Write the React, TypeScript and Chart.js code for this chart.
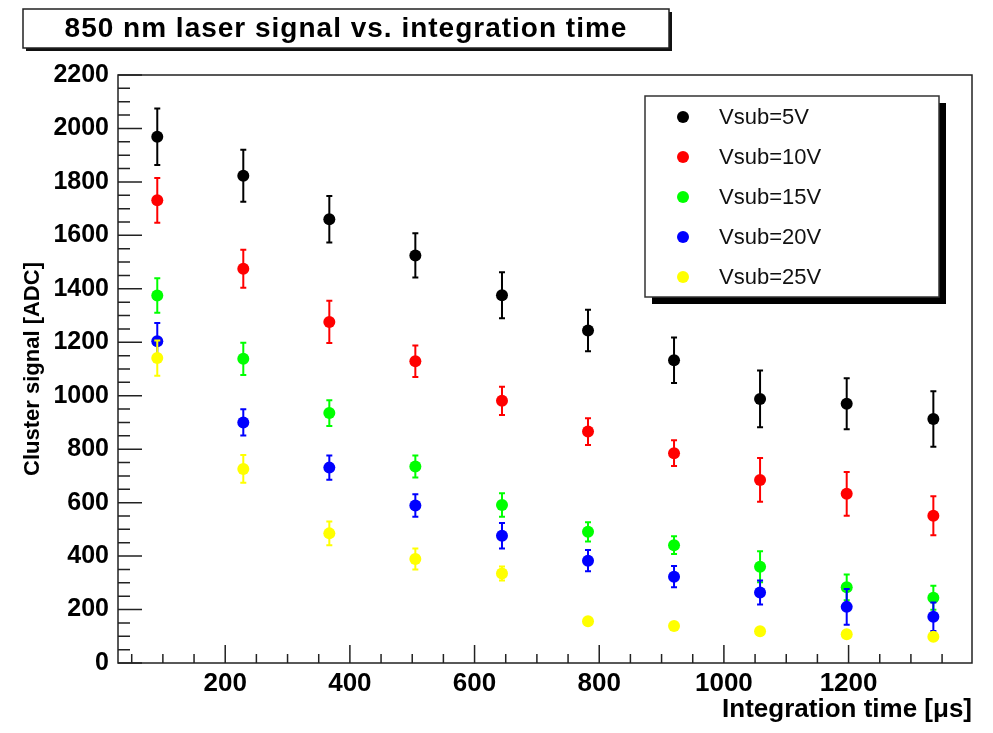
import { useEffect, useRef } from 'react';
import { Chart, registerables } from 'chart.js';

Chart.register(...registerables);

// Integration time of each measurement [µs]
const integrationTimes = [91, 229, 367, 505, 644, 782, 920, 1058, 1197, 1336];

// Mean cluster signal [ADC] and its uncertainty for each substrate voltage
const signal5V = [1969, 1823, 1660, 1525, 1376, 1244, 1133, 988, 970, 913];
const error5V = [106, 97, 87, 83, 86, 78, 85, 106, 95, 104];
const signal10V = [1731, 1475, 1276, 1129, 981, 866, 785, 685, 633, 551];
const error10V = [84, 71, 79, 59, 53, 50, 48, 82, 82, 73];
const signal15V = [1375, 1138, 935, 735, 591, 491, 441, 360, 283, 244];
const error15V = [65, 60, 48, 41, 44, 36, 33, 58, 48, 45];
const signal20V = [1204, 900, 731, 589, 476, 383, 323, 264, 210, 173];
const error20V = [68, 49, 45, 42, 48, 40, 40, 45, 67, 53];
const signal25V = [1141, 726, 485, 389, 335, 156, 138, 119, 108, 98];
const error25V = [66, 52, 44, 39, 26, 10, 10, 10, 10, 10];

const seriesLabels = ['Vsub=5V', 'Vsub=10V', 'Vsub=15V', 'Vsub=20V', 'Vsub=25V'];
const seriesColors = ['#000000', '#ff0000', '#00ff00', '#0000ff', '#ffff00'];
const seriesValues = [signal5V, signal10V, signal15V, signal20V, signal25V];
const seriesErrors = [error5V, error10V, error15V, error20V, error25V];

const xTickValues = [200, 400, 600, 800, 1000, 1200];
const xRange = [28, 1398];
const yRange = [0, 2200];

const titleText = '850 nm laser signal vs. integration time';
const xTitle = 'Integration time [μs]';
const yTitle = 'Cluster signal [ADC]';

const FONT = "'Liberation Sans', Arial, Helvetica, sans-serif";

// Vertical error bars with small caps, drawn just beneath each dataset's markers
const errorBarPlugin = {
  id: 'errorBars',
  beforeDatasetDraw(chart: any, args: any) {
    const ds = chart.data.datasets[args.index];
    const errs: number[] = ds.errors || [];
    const yScale = chart.scales.y;
    const ctx = chart.ctx;
    ctx.save();
    ctx.strokeStyle = ds.borderColor;
    ctx.lineWidth = 2;
    args.meta.data.forEach((el: any, i: number) => {
      const v = ds.data[i].y;
      const e = errs[i] || 0;
      const yTop = yScale.getPixelForValue(v + e);
      const yBot = yScale.getPixelForValue(v - e);
      const x = el.x;
      ctx.beginPath();
      ctx.moveTo(x, yTop);
      ctx.lineTo(x, yBot);
      ctx.moveTo(x - 3, yTop);
      ctx.lineTo(x + 3, yTop);
      ctx.moveTo(x - 3, yBot);
      ctx.lineTo(x + 3, yBot);
      ctx.stroke();
    });
    ctx.restore();
  },
};

// Frame around the plot area with inward-facing major and minor ticks
const framePlugin = {
  id: 'frameTicks',
  afterDatasetsDraw(chart: any) {
    const { ctx, chartArea: a, scales } = chart;
    ctx.save();
    ctx.strokeStyle = '#222';
    ctx.lineWidth = 1.5;
    ctx.strokeRect(a.left, a.top, a.right - a.left, a.bottom - a.top);
    ctx.beginPath();
    for (let v = 50; v < xRange[1]; v += 50) {
      if (v < xRange[0]) continue;
      const x = scales.x.getPixelForValue(v);
      const len = v % 200 === 0 ? 18 : 9;
      ctx.moveTo(x, a.bottom);
      ctx.lineTo(x, a.bottom - len);
    }
    for (let v = 0; v <= yRange[1]; v += 50) {
      const y = scales.y.getPixelForValue(v);
      const len = v % 200 === 0 ? 24 : 12;
      ctx.moveTo(a.left, y);
      ctx.lineTo(a.left + len, y);
    }
    ctx.stroke();
    ctx.restore();
  },
};

// Boxed title and boxed legend, each with a drop shadow
const boxesPlugin = {
  id: 'boxes',
  afterDraw(chart: any) {
    const ctx = chart.ctx;
    ctx.save();
    // title box
    const tb = { x: 23, y: 9, w: 646, h: 39 };
    ctx.fillStyle = '#111';
    ctx.fillRect(tb.x + 3, tb.y + 3, tb.w, tb.h);
    ctx.fillStyle = '#fff';
    ctx.fillRect(tb.x, tb.y, tb.w, tb.h);
    ctx.strokeStyle = '#222';
    ctx.lineWidth = 1.5;
    ctx.strokeRect(tb.x, tb.y, tb.w, tb.h);
    ctx.fillStyle = '#000';
    ctx.font = `bold 28px ${FONT}`;
    (ctx as any).letterSpacing = '1px';
    ctx.textAlign = 'center';
    ctx.textBaseline = 'middle';
    ctx.fillText(titleText, tb.x + tb.w / 2, tb.y + tb.h / 2 + 1);
    (ctx as any).letterSpacing = '0px';

    // legend box
    const lb = { x: 645, y: 96, w: 294, h: 201 };
    ctx.fillStyle = '#000';
    ctx.fillRect(lb.x + 7, lb.y + 7, lb.w, lb.h);
    ctx.fillStyle = '#fff';
    ctx.fillRect(lb.x, lb.y, lb.w, lb.h);
    ctx.strokeStyle = '#333';
    ctx.lineWidth = 1.5;
    ctx.strokeRect(lb.x, lb.y, lb.w, lb.h);
    ctx.font = `22px ${FONT}`;
    ctx.textAlign = 'left';
    ctx.textBaseline = 'middle';
    chart.data.datasets.forEach((ds: any, i: number) => {
      const cy = lb.y + 21 + i * 40;
      ctx.fillStyle = ds.backgroundColor;
      ctx.beginPath();
      ctx.arc(lb.x + 38, cy, 6, 0, Math.PI * 2);
      ctx.fill();
      ctx.fillStyle = '#111';
      ctx.fillText(ds.label, lb.x + 74, cy + 1);
    });
    ctx.restore();
  },
};

export default function App() {
  const canvasRef = useRef<HTMLCanvasElement | null>(null);

  useEffect(() => {
    const canvas = canvasRef.current;
    if (!canvas) return;
    const datasets = seriesLabels.map((label, s) => ({
      label,
      data: integrationTimes.map((t, i) => ({ x: t, y: seriesValues[s][i] })),
      errors: seriesErrors[s],
      backgroundColor: seriesColors[s],
      borderColor: seriesColors[s],
      pointRadius: 6,
      pointBorderWidth: 0,
      showLine: false,
      order: seriesLabels.length - s,
    }));

    const chart = new Chart(canvas, {
      type: 'scatter',
      data: { datasets } as any,
      plugins: [errorBarPlugin, framePlugin, boxesPlugin],
      options: {
        animation: false,
        responsive: false,
        maintainAspectRatio: false,
        layout: { padding: { top: 75, right: 21, left: 0, bottom: 0 } },
        plugins: {
          legend: { display: false },
          tooltip: { enabled: false },
          title: { display: false },
        },
        scales: {
          x: {
            type: 'linear',
            min: xRange[0],
            max: xRange[1],
            grid: { display: false, drawTicks: false },
            border: { display: false },
            afterBuildTicks: (scale: any) => {
              scale.ticks = xTickValues.map((v) => ({ value: v }));
            },
            afterFit: (scale: any) => {
              scale.height = 70;
            },
            ticks: {
              font: { family: FONT, size: 26, weight: 'bold' },
              color: '#000',
              padding: 5,
              maxRotation: 0,
              autoSkip: false,
              callback: (v: any) => String(v),
            },
            title: {
              display: true,
              text: xTitle,
              align: 'end',
              color: '#000',
              font: { family: FONT, size: 26, weight: 'bold' },
              padding: { top: 0, bottom: 8 },
            },
          },
          y: {
            type: 'linear',
            min: yRange[0],
            max: yRange[1],
            grid: { display: false, drawTicks: false },
            border: { display: false },
            afterFit: (scale: any) => {
              scale.width = 118;
            },
            ticks: {
              stepSize: 200,
              font: { family: FONT, size: 25, weight: 'bold' },
              color: '#000',
              padding: 9,
              callback: (v: any) => String(v),
            },
            title: {
              display: true,
              text: yTitle,
              color: '#000',
              font: { family: FONT, size: 22, weight: 'bold' },
              padding: { top: 20, bottom: 0 },
            },
          },
        },
      } as any,
    });
    return () => chart.destroy();
  }, []);

  return (
    <div style={{ position: 'fixed', left: 0, top: 0, width: 993, height: 733, background: '#fff' }}>
      <canvas ref={canvasRef} width={993} height={733} />
    </div>
  );
}
